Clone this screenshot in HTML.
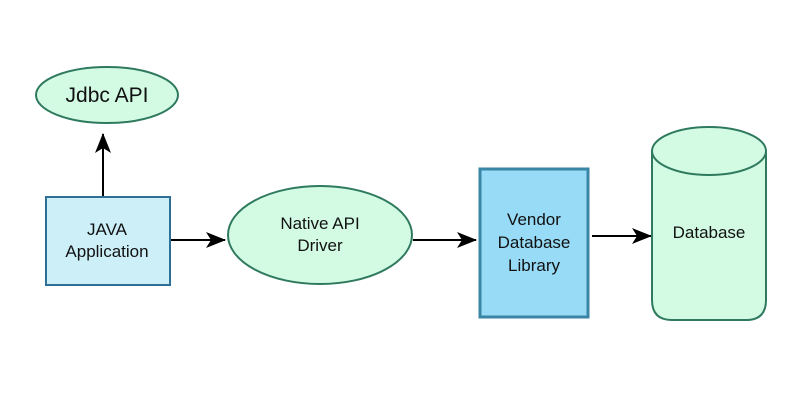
<!DOCTYPE html>
<html><head><style>body{margin:0;background:#fff}svg{display:block}text{font-family:"Liberation Sans",sans-serif;fill:#111}</style></head>
<body>
<svg width="800" height="400" viewBox="0 0 800 400">
<defs><marker id="a" markerWidth="20" markerHeight="16" refX="19" refY="8" orient="auto" markerUnits="userSpaceOnUse" viewBox="0 0 20 16"><path d="M0,0 L20,8 L0,16 L5,8 z" fill="#000"/></marker></defs>
<ellipse cx="107" cy="95" rx="71" ry="28" fill="#d3fbe4" stroke="#2f7a5e" stroke-width="2"/>
<text x="107" y="102" font-size="21" text-anchor="middle">Jdbc API</text>
<line x1="103" y1="196" x2="103" y2="134" stroke="#000" stroke-width="2" marker-end="url(#a)"/>
<rect x="46" y="197" width="124" height="88" fill="#cdeff8" stroke="#2f6f95" stroke-width="2"/>
<text x="107" y="235" font-size="17" text-anchor="middle">JAVA</text>
<text x="107" y="257" font-size="17" text-anchor="middle">Application</text>
<line x1="171" y1="240" x2="225" y2="240" stroke="#000" stroke-width="2" marker-end="url(#a)"/>
<ellipse cx="320" cy="235" rx="92" ry="49" fill="#d3fbe4" stroke="#2f7a5e" stroke-width="2"/>
<text x="320" y="229" font-size="17" text-anchor="middle">Native API</text>
<text x="320" y="251" font-size="17" text-anchor="middle">Driver</text>
<line x1="413" y1="240" x2="476" y2="240" stroke="#000" stroke-width="2" marker-end="url(#a)"/>
<rect x="480" y="169" width="108" height="148" fill="#97dbf7" stroke="#3a86a6" stroke-width="3"/>
<text x="534" y="225" font-size="17" text-anchor="middle">Vendor</text>
<text x="534" y="248" font-size="17" text-anchor="middle">Database</text>
<text x="534" y="271" font-size="17" text-anchor="middle">Library</text>
<line x1="592" y1="236" x2="651" y2="236" stroke="#000" stroke-width="2" marker-end="url(#a)"/>
<path d="M652,151 L652,300 Q652,320 672,320 L746,320 Q766,320 766,300 L766,151" fill="#d3fbe4" stroke="#2f7a5e" stroke-width="2"/>
<ellipse cx="709" cy="151" rx="57" ry="24" fill="#d3fbe4" stroke="#2f7a5e" stroke-width="2"/>
<text x="709" y="238" font-size="17" text-anchor="middle">Database</text>
</svg>
</body></html>
